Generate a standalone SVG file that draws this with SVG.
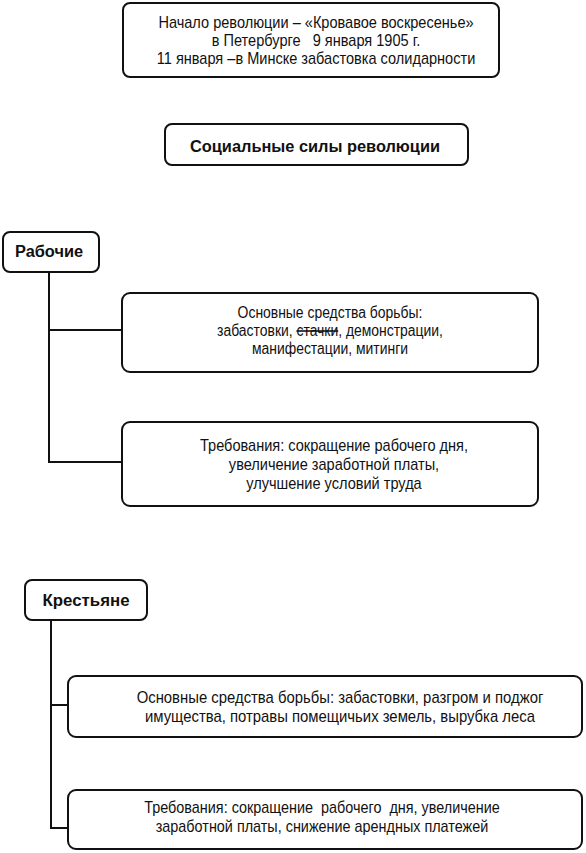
<svg xmlns="http://www.w3.org/2000/svg" width="586" height="853" viewBox="0 0 586 853">
<style>
.box{fill:#fff;stroke:#111;stroke-width:2}
.t{font-family:"Liberation Sans",Arial,sans-serif;font-size:16px;fill:#111;text-anchor:middle}
.b{font-family:"Liberation Sans",Arial,sans-serif;font-size:16px;font-weight:bold;fill:#111;text-anchor:middle}
.c{fill:none;stroke:#111;stroke-width:2}
</style>
<rect width="586" height="853" fill="#fff"/>
<g id="connectors">
<path class="c" d="M49 272V462H122M49 330H122"/>
<path class="c" d="M51 620V828H68M51 705H68"/>
</g>
<g id="start">
<rect class="box" x="123" y="3" width="376" height="74" rx="7"/>
<text class="t" transform="translate(316 28) scale(0.91 1)">Начало революции – «Кровавое воскресенье»</text>
<text class="t" transform="translate(316 46) scale(0.91 1)" xml:space="preserve">в Петербурге   9 января 1905 г.</text>
<text class="t" transform="translate(316 64) scale(0.91 1)">11 января –в Минске забастовка солидарности</text>
</g>
<g id="forces">
<rect class="box" x="165" y="124" width="303" height="41" rx="7"/>
<text class="b" x="315" y="152" textLength="250" lengthAdjust="spacingAndGlyphs">Социальные силы революции</text>
</g>
<g id="workers">
<rect class="box" x="3" y="232" width="96" height="40" rx="7"/>
<text class="b" x="49" y="257" textLength="68" lengthAdjust="spacingAndGlyphs">Рабочие</text>
</g>
<g id="workers-means">
<rect class="box" x="122" y="293" width="416" height="79" rx="8"/>
<text class="t" transform="translate(330 318) scale(0.87 1)">Основные средства борьбы:</text>
<text class="t" transform="translate(330 336) scale(0.87 1)">забастовки, <tspan text-decoration="line-through">стачки</tspan>, демонстрации,</text>
<text class="t" transform="translate(330 354) scale(0.87 1)">манифестации, митинги</text>
</g>
<g id="workers-demands">
<rect class="box" x="122" y="422" width="416" height="84" rx="8"/>
<text class="t" transform="translate(334 451) scale(0.91 1)">Требования: сокращение рабочего дня,</text>
<text class="t" transform="translate(334 470) scale(0.91 1)">увеличение заработной платы,</text>
<text class="t" transform="translate(334 489) scale(0.91 1)">улучшение условий труда</text>
</g>
<g id="peasants">
<rect class="box" x="25" y="580" width="122" height="40" rx="7"/>
<text class="b" x="86" y="606" textLength="87" lengthAdjust="spacingAndGlyphs">Крестьяне</text>
</g>
<g id="peasants-means">
<rect class="box" x="68" y="676" width="514" height="61" rx="8"/>
<text class="t" transform="translate(340 703) scale(0.93 1)">Основные средства борьбы: забастовки, разгром и поджог</text>
<text class="t" transform="translate(340 722) scale(0.93 1)">имущества, потравы помещичьих земель, вырубка леса</text>
</g>
<g id="peasants-demands">
<rect class="box" x="68" y="790" width="514" height="59" rx="8"/>
<text class="t" transform="translate(322 813) scale(0.9 1)" xml:space="preserve">Требования: сокращение  рабочего  дня, увеличение</text>
<text class="t" transform="translate(322 832) scale(0.9 1)">заработной платы, снижение арендных платежей</text>
</g>
</svg>
